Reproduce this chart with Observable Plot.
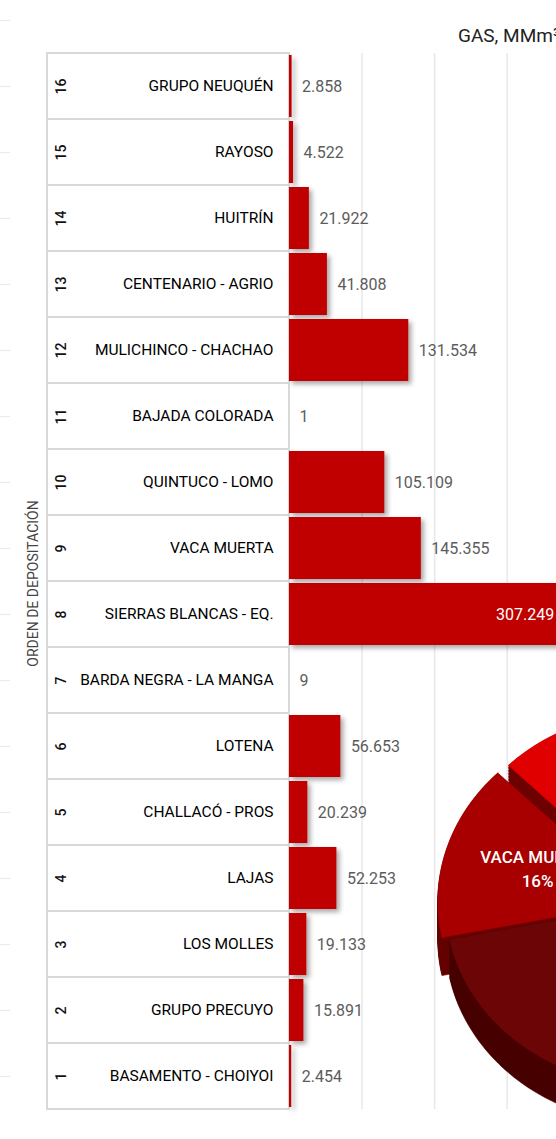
<!DOCTYPE html>
<html><head><meta charset="utf-8">
<script src="https://cdn.jsdelivr.net/npm/d3@7"></script>
<script src="https://cdn.jsdelivr.net/npm/@observablehq/plot@0.6"></script>
<style>
html,body{margin:0;padding:0;background:#fff;overflow:hidden;width:556px;height:1139px;}
#wrap{position:relative;width:556px;height:1139px;overflow:hidden;}
#wrap > svg{position:absolute;left:0;top:0;}
#title{position:absolute;left:458px;top:24px;font:19px Roboto,sans-serif;color:#222;white-space:nowrap;z-index:3;}
</style></head><body>
<div id="wrap"><div id="title">GAS, MMm³</div></div>
<script>
// ---- data ----
const orden = [16,15,14,13,12,11,10,9,8,7,6,5,4,3,2,1];
const formaciones = ["GRUPO NEUQUÉN","RAYOSO","HUITRÍN","CENTENARIO - AGRIO","MULICHINCO - CHACHAO","BAJADA COLORADA","QUINTUCO - LOMO","VACA MUERTA","SIERRAS BLANCAS - EQ.","BARDA NEGRA - LA MANGA","LOTENA","CHALLACÓ - PROS","LAJAS","LOS MOLLES","GRUPO PRECUYO","BASAMENTO - CHOIYOI"];
const gas = [2858,4522,21922,41808,131534,1,105109,145355,307249,9,56653,20239,52253,19133,15891,2454];
const gridTicks = [80000,160000,240000];
const ejeTitulo = "ORDEN DE DEPOSITACIÓN";
// pie groups (shares computed from the gas values)
const pieGrupos = ["SIERRAS BLANCAS - EQ.","MULICHINCO - CHACHAO","QUINTUCO - LOMO","OTRAS","VACA MUERTA"];
const pieEtiquetas = ["VACA MUERTA"];

// ---- styles / layout ----
const W = 556, H = 1139, MT = 53, MB = 30;
const rowH = (H - MT - MB) / formaciones.length;
const barColor = "#c00000";
const pieStyle = {
  "SIERRAS BLANCAS - EQ.": {top:"#e00000", side:"#6e0000", explode:11},
  "MULICHINCO - CHACHAO": {top:"#c80000", side:"#600000", explode:0},
  "QUINTUCO - LOMO": {top:"#900000", side:"#500000", explode:0},
  "OTRAS": {top:"#6c0606", side:"#470000", explode:0},
  "VACA MUERTA": {top:"#a80000", side:"#640000", explode:8}
};

const rows = formaciones.map((f,i)=>({orden: orden[i], name: f, gas: gas[i]}));
const maxGas = d3.max(gas);
const fmt = d3.formatLocale({decimal:",", thousands:".", grouping:[3], currency:["",""]}).format(",d");

const main = Plot.plot({
  width: W, height: H, marginTop: MT, marginBottom: MB, marginLeft: 0, marginRight: 0,
  style: {fontFamily: "Roboto, sans-serif", background: "#fff"},
  x: {domain: [0, 294400], range: [289, W], axis: null},
  y: {domain: formaciones, axis: null, padding: 0},
  marks: [
    Plot.ruleY(formaciones, {y: d=>d, insetRight: W-10, stroke:"#ebebeb", strokeWidth:1.2}),
    Plot.ruleY([formaciones[0]], {y: d=>d, dy: -rowH, insetRight: W-10, stroke:"#ebebeb", strokeWidth:1.2}),
    Plot.ruleX(gridTicks, {stroke:"#e8e8e8", strokeWidth:1.5}),
    Plot.cell(formaciones, {y: d=>d, insetLeft: 47, insetRight: W-289, fill:"#fff", stroke:"#d9d9d9", strokeWidth:2}),
    Plot.barX(rows, {x:"gas", y:"name", fill: barColor, insetTop:2, insetBottom:2}),
    Plot.text(rows, {x: 0, y:"name", text:"name", textAnchor:"end", dx:-16, fontSize:15.5, fontWeight:400, fill:"#000", letterSpacing:"-0.3px"}),
    Plot.text(rows, {y:"name", text: d=>String(d.orden), frameAnchor:"left", dx:61, rotate:-90, textAnchor:"middle", fontSize:14, fontWeight:500, fill:"#111"}),
    Plot.text(rows.filter(d=>d.gas!==maxGas), {x:"gas", y:"name", text: d=>fmt(d.gas), textAnchor:"start", dx:10, fill:"#5c5c5c", fontSize:16}),
    Plot.text(rows.filter(d=>d.gas===maxGas), {x:"gas", y:"name", text: d=>fmt(d.gas), textAnchor:"end", dx:-14, fill:"#fff", fontSize:16}),
    Plot.text([ejeTitulo], {frameAnchor:"left", dx:33, dy:2, rotate:-90, textAnchor:"middle", fontSize:14, fill:"#444", letterSpacing:"-0.3px"})
  ]
});
document.getElementById("wrap").appendChild(main);
{
  const svg = d3.select(main);
  const defs = svg.insert("defs", ":first-child");
  defs.append("filter").attr("id","barsh").attr("filterUnits","userSpaceOnUse")
    .attr("x",0).attr("y",0).attr("width",W).attr("height",H)
    .append("feDropShadow").attr("dx",3).attr("dy",3).attr("stdDeviation",2.5)
    .attr("flood-color","#000").attr("flood-opacity",0.35);
  svg.select('g[aria-label="bar"]').attr("filter","url(#barsh)");
}

// ---- 3D pie (overlay) ----
const idx = n => formaciones.indexOf(n);
const known = ["SIERRAS BLANCAS - EQ.","MULICHINCO - CHACHAO","QUINTUCO - LOMO","VACA MUERTA"];
const total = d3.sum(gas);
const pieVal = {};
known.forEach(n => pieVal[n] = gas[idx(n)]);
pieVal["OTRAS"] = total - d3.sum(known, n => gas[idx(n)]);
const pieData = pieGrupos.map(n => ({name: n, value: pieVal[n]}));

const cx = 650, cy = 903, rx = 205, ry = 182, depth = 38;
const a0 = -45*Math.PI/180;
const arcs = d3.pie().sort(null).value(d=>d.value).startAngle(a0).endAngle(2*Math.PI + a0)(pieData);
const pt = (a, k) => [rx*k*Math.sin(a), -ry*k*Math.cos(a)];
const polys = [];
const layers = d3.range(depth, 0, -1.5).concat([0]);
layers.forEach((dz, li) => {
  arcs.forEach(arc => {
    const st = pieStyle[arc.data.name];
    const mid = (arc.startAngle + arc.endAngle)/2;
    const [ox, oy] = pt(mid, st.explode/rx);
    const id = arc.data.name + "|" + li;
    const color = dz === 0 ? st.top : st.side;
    const n = Math.max(2, Math.ceil((arc.endAngle - arc.startAngle)/(Math.PI/180)));
    polys.push({id, color, x: cx+ox, y: cy+oy+dz});
    for (let j=0;j<=n;j++){
      const a = arc.startAngle + (arc.endAngle-arc.startAngle)*j/n;
      const [px, py] = pt(a, 1);
      polys.push({id, color, x: cx+ox+px, y: cy+oy+py+dz});
    }
  });
});
const labels = arcs.filter(arc => pieEtiquetas.includes(arc.data.name)).map(arc => {
  const mid = (arc.startAngle + arc.endAngle)/2;
  const [px, py] = pt(mid, 0.55);
  return {x: cx+px, y: cy+py, text: arc.data.name + "\n" + Math.round(100*arc.data.value/total) + "%"};
});

const pie = Plot.plot({
  width: W, height: H, margin: 0,
  style: {fontFamily: "Roboto, sans-serif", background: "transparent"},
  x: {type: "identity", axis: null},
  y: {type: "identity", axis: null},
  color: {type: "identity"},
  marks: [
    Plot.line(polys, {x:"x", y:"y", z:"id", fill:"color", stroke:"color", strokeWidth:0.6}),
    Plot.text(labels, {x:"x", y:"y", text:"text", dx:-5, dy:-7, fill:"#fff", fontSize:17, fontWeight:500, lineHeight:1.4})
  ]
});
document.getElementById("wrap").appendChild(pie);
</script>
</body></html>
